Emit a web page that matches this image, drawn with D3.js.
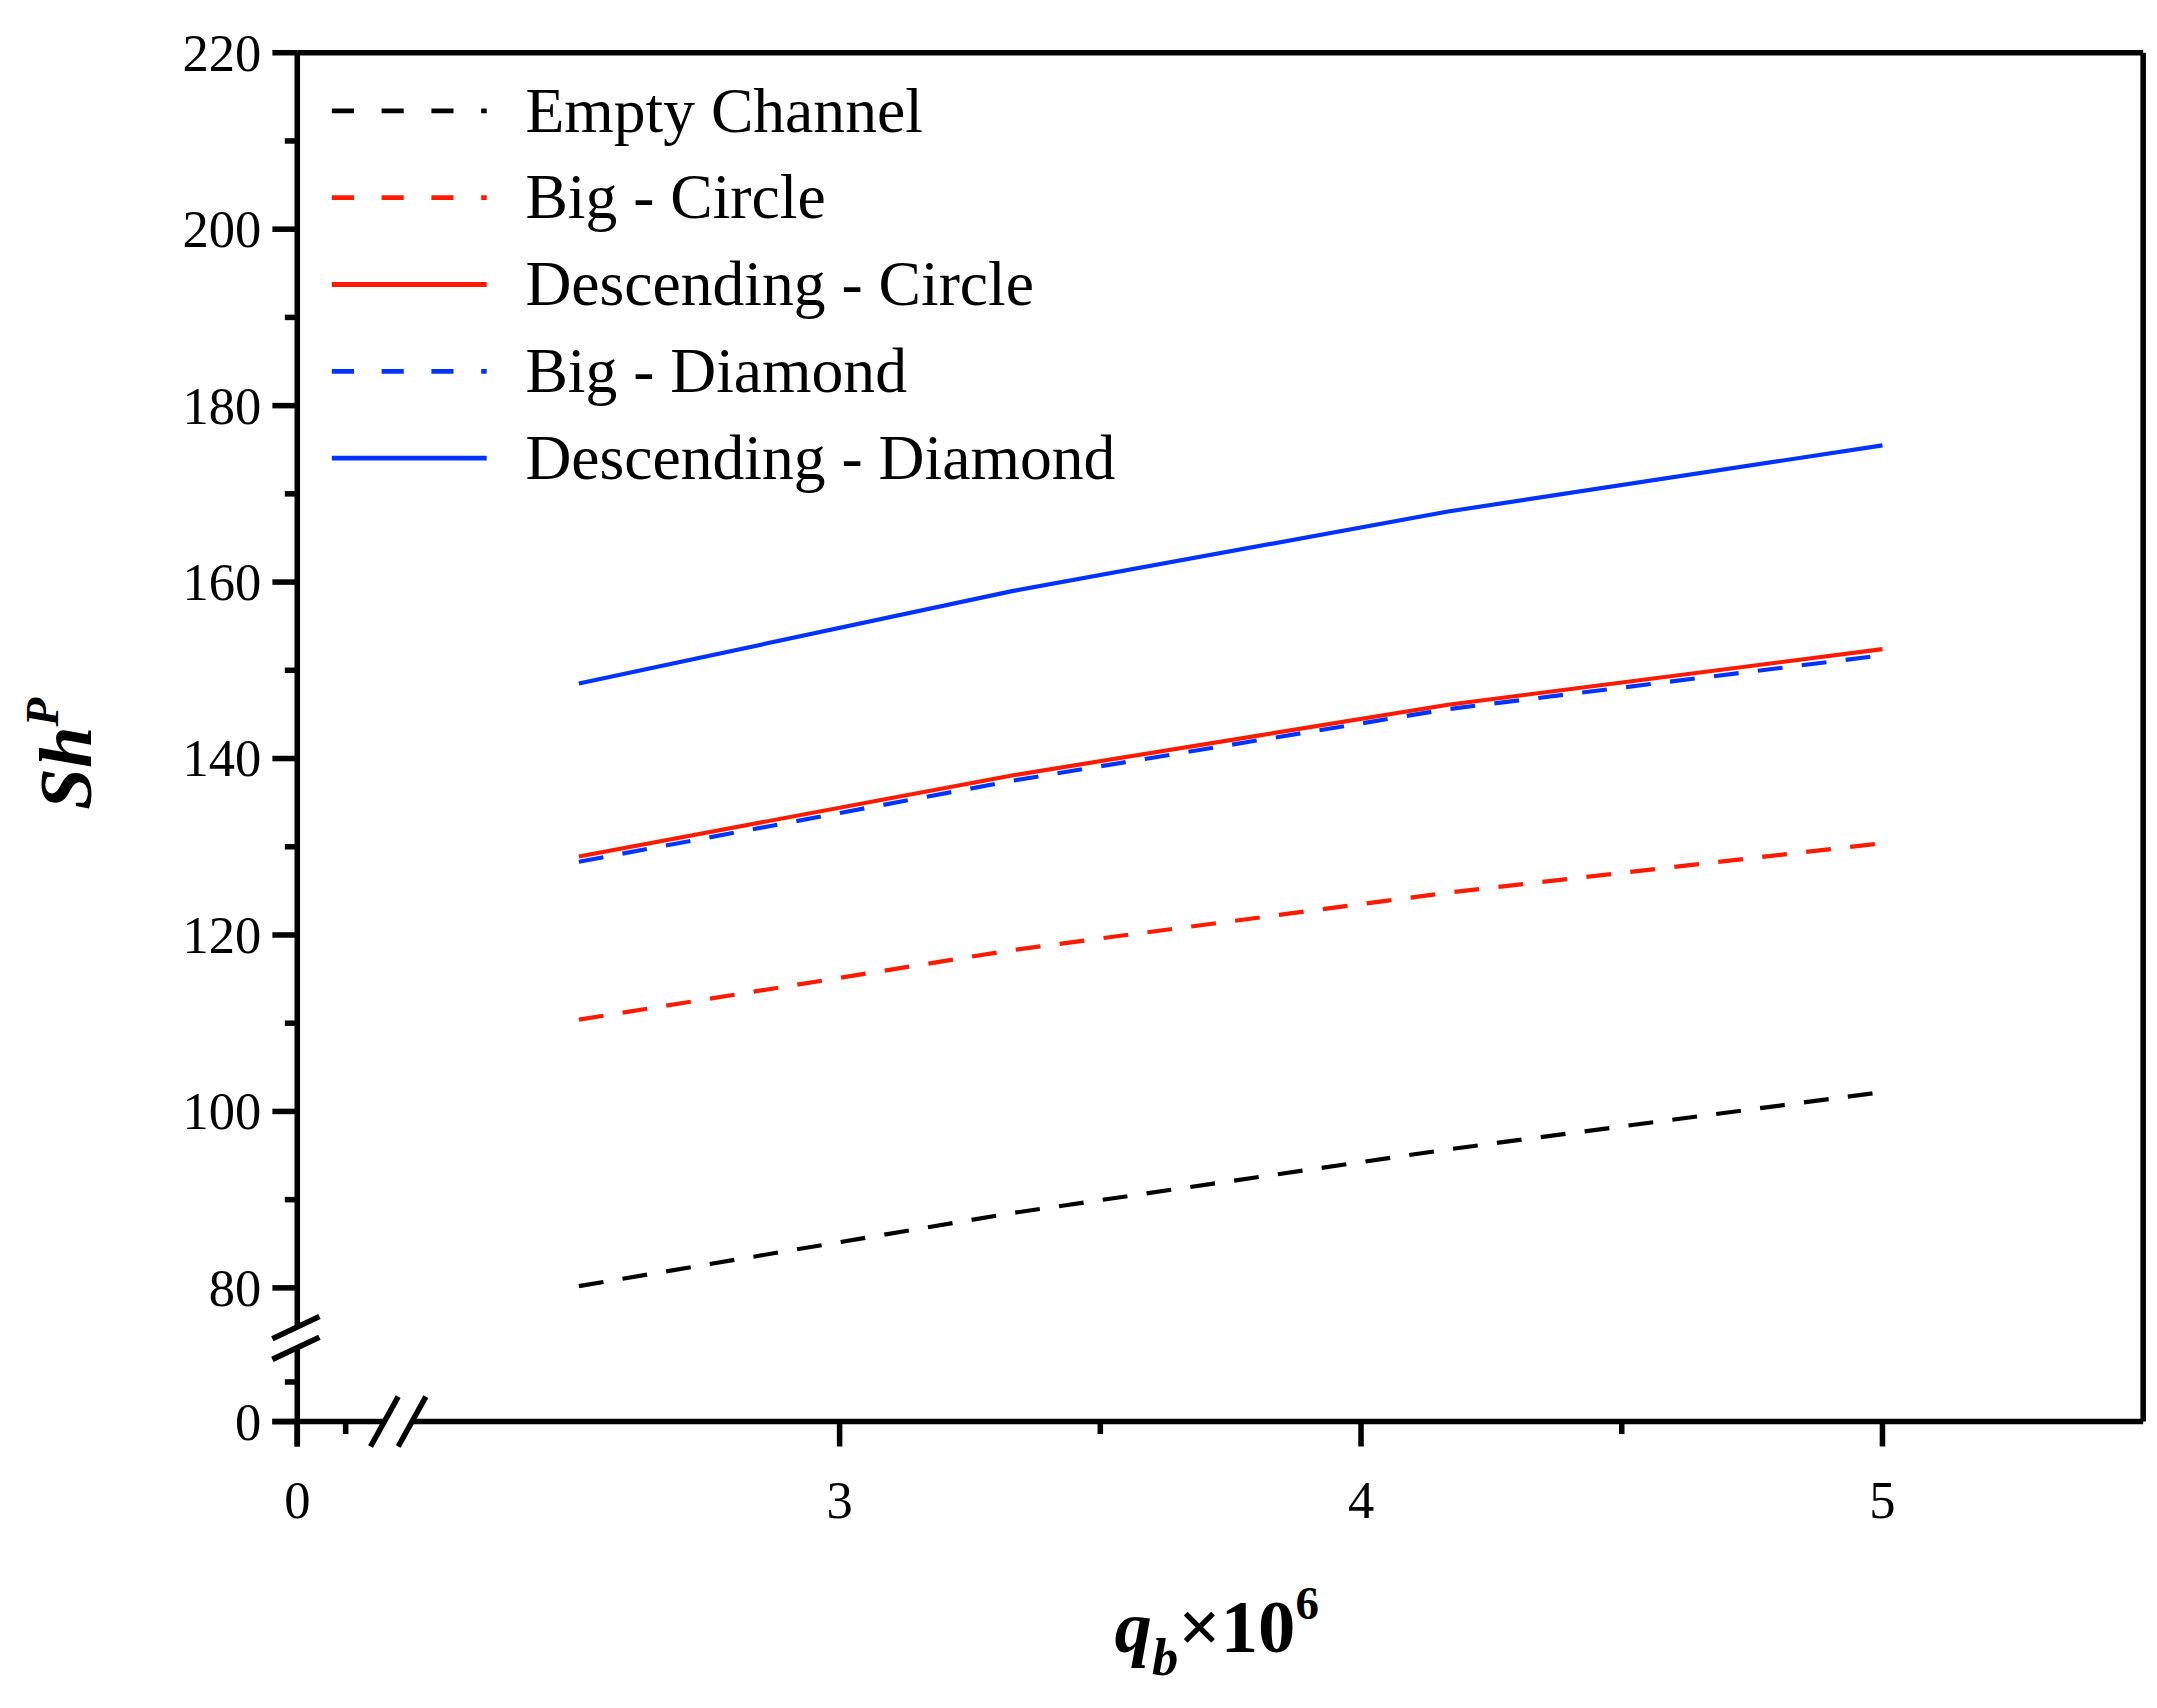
<!DOCTYPE html>
<html><head><meta charset="utf-8">
<script src="https://cdn.jsdelivr.net/npm/d3@7"></script>
<style>body{margin:0;background:#fff}</style>
</head><body>
<script>
// data
const qb=[2.5,3.333,4.167,5];
const emptyCh=[80.2,88.5,95.7,102.2];
const bigCircle=[110.4,118.3,124.8,130.4];
const descCircle=[128.9,138.1,146.1,152.4];
const bigDiamond=[128.3,137.5,145.6,151.7];
const descDiamond=[148.5,159,168,175.5];
const series=[
  {name:"Empty Channel",v:emptyCh,c:"#000",dash:true},
  {name:"Big - Circle",v:bigCircle,c:"#ff1a00",dash:true},
  {name:"Descending - Circle",v:descCircle,c:"#ff1a00",dash:false},
  {name:"Big - Diamond",v:bigDiamond,c:"#0033ff",dash:true},
  {name:"Descending - Diamond",v:descDiamond,c:"#0033ff",dash:false}
];
const yMajor=[0,80,100,120,140,160,180,200,220];
const yMinor=[20,90,110,130,150,170,190,210];
const xMajor=[0,3,4,5];
const xMinor=[0.5,3.5,4.5];

const L=215,R=1550,T=38,B=1028;
const x=d3.scaleLinear().domain([0,0.9,2.18,5.5]).range([L,278,298,R]);
const y=d3.scaleLinear().domain([0,37,75.5,220]).range([B,975,960,T]);

const svg=d3.select("body").append("svg").attr("width",2157).attr("height",1708)
  .attr("viewBox","0 0 1560 1235").style("font-family","'Liberation Serif','Times New Roman',serif");

// lines
const line=d3.line().x((d,i)=>x(qb[i])).y(d=>y(d));
series.forEach(s=>{
  svg.append("path").attr("d",line(s.v)).attr("fill","none").attr("stroke",s.c)
    .attr("stroke-width",3).attr("stroke-dasharray",s.dash?"18,14":null);
});

// frame
const ax=svg.append("g").attr("stroke","#000").attr("stroke-width",4).attr("fill","none");
ax.append("line").attr("x1",L).attr("x2",R).attr("y1",T).attr("y2",T);
ax.append("line").attr("x1",R).attr("x2",R).attr("y1",T).attr("y2",B);
// left axis with break
ax.append("line").attr("x1",L).attr("x2",L).attr("y1",T).attr("y2",y(75.5));
ax.append("line").attr("x1",L).attr("x2",L).attr("y1",y(37)).attr("y2",B+18);
// bottom axis with break
ax.append("line").attr("x1",L-18).attr("x2",x(0.9)).attr("y1",B).attr("y2",B);
ax.append("line").attr("x1",x(2.18)).attr("x2",R).attr("y1",B).attr("y2",B);
// break marks
[y(75.5),y(37)].forEach(yy=>ax.append("line").attr("x1",L-18).attr("x2",L+16).attr("y1",yy+8).attr("y2",yy-8));
[x(0.9),x(2.18)].forEach(xx=>ax.append("line").attr("x1",xx-10).attr("x2",xx+10).attr("y1",B+18).attr("y2",B-18));

// ticks
yMajor.forEach(v=>ax.append("line").attr("x1",L-18).attr("x2",L).attr("y1",y(v)).attr("y2",y(v)));
yMinor.forEach(v=>ax.append("line").attr("x1",L-9).attr("x2",L).attr("y1",y(v)).attr("y2",y(v)));
xMajor.forEach(v=>ax.append("line").attr("x1",x(v)).attr("x2",x(v)).attr("y1",B).attr("y2",B+18));
xMinor.forEach(v=>ax.append("line").attr("x1",x(v)).attr("x2",x(v)).attr("y1",B).attr("y2",B+9));

yMajor.forEach(v=>svg.append("text").attr("x",L-26).attr("y",y(v)+13).attr("text-anchor","end")
  .attr("font-size",38).text(v));
xMajor.forEach(v=>svg.append("text").attr("x",x(v)).attr("y",B+70).attr("text-anchor","middle")
  .attr("font-size",38).text(v));

// axis titles
const yt=svg.append("text").attr("transform","translate(66,545) rotate(-90)").attr("text-anchor","middle")
  .attr("font-size",54).attr("font-weight","bold").attr("font-style","italic");
yt.append("tspan").text("Sh");
yt.append("tspan").attr("font-size",34).attr("dy",-24).text("P");
const xt=svg.append("text").attr("x",880).attr("y",1195).attr("text-anchor","middle")
  .attr("font-size",54).attr("font-weight","bold");
xt.append("tspan").attr("font-style","italic").text("q");
xt.append("tspan").attr("font-style","italic").attr("font-size",38).attr("dy",16).text("b");
xt.append("tspan").attr("dy",-16).text("×10");
xt.append("tspan").attr("font-size",34).attr("dy",-24).text("6");

// legend
series.forEach((s,i)=>{
  const yy=80+i*62.8;
  svg.append("line").attr("x1",240).attr("x2",352).attr("y1",yy).attr("y2",yy).attr("stroke",s.c)
    .attr("stroke-width",3.5).attr("stroke-dasharray",s.dash?"16,20":null);
  svg.append("text").attr("x",380).attr("y",yy+15).attr("font-size",46).text(s.name);
});
</script>
</body></html>
